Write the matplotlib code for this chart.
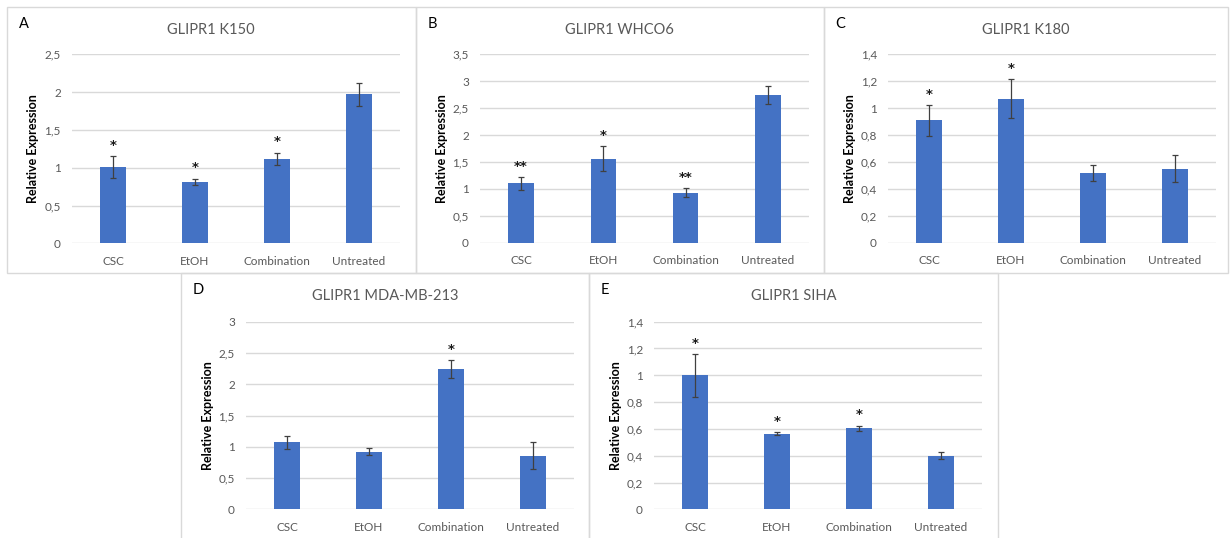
import matplotlib
matplotlib.use("Agg")
import matplotlib.pyplot as plt
from matplotlib.patches import Rectangle
from matplotlib.ticker import FixedLocator, FuncFormatter
import numpy as np

plt.rcParams['font.family'] = ['Lato', 'DejaVu Sans']

categories = ["CSC", "EtOH", "Combination", "Untreated"]

k150_mean = [1.01, 0.81, 1.12, 1.97]
k150_err = [0.145, 0.045, 0.08, 0.15]
k150_sig = ["*", "*", "*", ""]

whco6_mean = [1.10, 1.56, 0.93, 2.74]
whco6_err = [0.12, 0.235, 0.09, 0.165]
whco6_sig = ["**", "*", "**", ""]

k180_mean = [0.91, 1.07, 0.515, 0.55]
k180_err = [0.115, 0.145, 0.06, 0.10]
k180_sig = ["*", "*", "", ""]

mda_mean = [1.07, 0.92, 2.24, 0.86]
mda_err = [0.105, 0.055, 0.145, 0.21]
mda_sig = ["", "", "*", ""]

siha_mean = [1.00, 0.565, 0.605, 0.40]
siha_err = [0.16, 0.01, 0.02, 0.027]
siha_sig = ["*", "*", "*", ""]

titles = ["GLIPR1 K150", "GLIPR1 WHCO6", "GLIPR1 K180", "GLIPR1 MDA-MB-213", "GLIPR1 SIHA"]
letters = ["A", "B", "C", "D", "E"]
y_max = [2.5, 3.5, 1.4, 3.0, 1.4]
y_step = [0.5, 0.5, 0.2, 0.5, 0.2]

W, H = 1230, 538
BAR_COLOR = "#4472C4"
GRID = "#D9D9D9"
TEXT_GRAY = "#595959"

# layout in pixels: chart box (x0, y0, x1, y1) and plot area (x0, y0, x1, y1)
boxes = [(7, 7, 415.5, 273), (415.5, 7, 823.5, 273), (823.5, 7, 1228, 273),
         (181, 273, 589, 545), (589, 273, 998, 545)]
plots = [(72, 54.3, 400, 243.3), (480, 54.3, 809, 242.7), (888, 54.3, 1216, 242.7),
         (246, 321.7, 574, 509.3), (654, 321.7, 982, 509.3)]
# right edge of the rotated y-axis label, in pixels
ylabel_x = [39, 448, 856, 214, 622]

series = [(k150_mean, k150_err, k150_sig), (whco6_mean, whco6_err, whco6_sig),
          (k180_mean, k180_err, k180_sig), (mda_mean, mda_err, mda_sig),
          (siha_mean, siha_err, siha_sig)]

fig = plt.figure(figsize=(W / 100, H / 100), dpi=100)
fig.patch.set_facecolor("white")


def comma_fmt(v, pos):
    s = f"{round(v, 2):g}"
    return s.replace(".", ",")


for i, (mean, err, sig) in enumerate(series):
    bx0, by0, bx1, by1 = boxes[i]
    fig.add_artist(Rectangle((bx0 / W, 1 - by1 / H), (bx1 - bx0) / W, (by1 - by0) / H,
                             transform=fig.transFigure, fill=False,
                             edgecolor=GRID, linewidth=1.0, zorder=0))
    px0, py0, px1, py1 = plots[i]
    ax = fig.add_axes([px0 / W, 1 - py1 / H, (px1 - px0) / W, (py1 - py0) / H])
    x = np.arange(len(categories))
    ax.bar(x, mean, width=0.313, color=BAR_COLOR, zorder=3)
    ax.errorbar(x, mean, yerr=err, fmt="none", ecolor="#404040",
                elinewidth=0.9, capsize=2.0, capthick=0.9, zorder=4)
    for xi, m, e, s in zip(x, mean, err, sig):
        if s:
            ax.annotate(s, (xi, m + e), xytext=(0, 3), textcoords="offset points",
                        ha="center", va="bottom", fontsize=9.5, fontweight="bold",
                        color="#1a1a1a", family="DejaVu Sans", zorder=5)
    ax.set_xlim(-0.5, len(categories) - 0.5)
    ax.set_ylim(0, y_max[i])
    ticks = np.arange(0, y_max[i] + 1e-9, y_step[i])
    ax.yaxis.set_major_locator(FixedLocator(ticks))
    ax.yaxis.set_major_formatter(FuncFormatter(comma_fmt))
    ax.set_xticks(x)
    ax.set_xticklabels(categories)
    ax.grid(axis="y", color=GRID, linewidth=1.0, zorder=0)
    for sp in ax.spines.values():
        sp.set_visible(False)
    ax.tick_params(axis="both", length=0, labelsize=8.5, labelcolor=TEXT_GRAY)
    ax.tick_params(axis="y", pad=8)
    ax.tick_params(axis="x", pad=9)
    ax.set_ylabel("Relative Expression", fontsize=9, fontweight="bold", color="black")
    ax.yaxis.set_label_coords((ylabel_x[i] - px0) / (px1 - px0), 0.5)
    fig.text((bx0 + bx1) / 2 / W, 1 - (by0 + 23) / H, titles[i], ha="center", va="center",
             fontsize=10.5, color=TEXT_GRAY)
    fig.text((bx0 + 12) / W, 1 - (by0 + 17) / H, letters[i], ha="left", va="center",
             fontsize=10.5, color="black")

fig.savefig("out.png", dpi=100, facecolor="white")
